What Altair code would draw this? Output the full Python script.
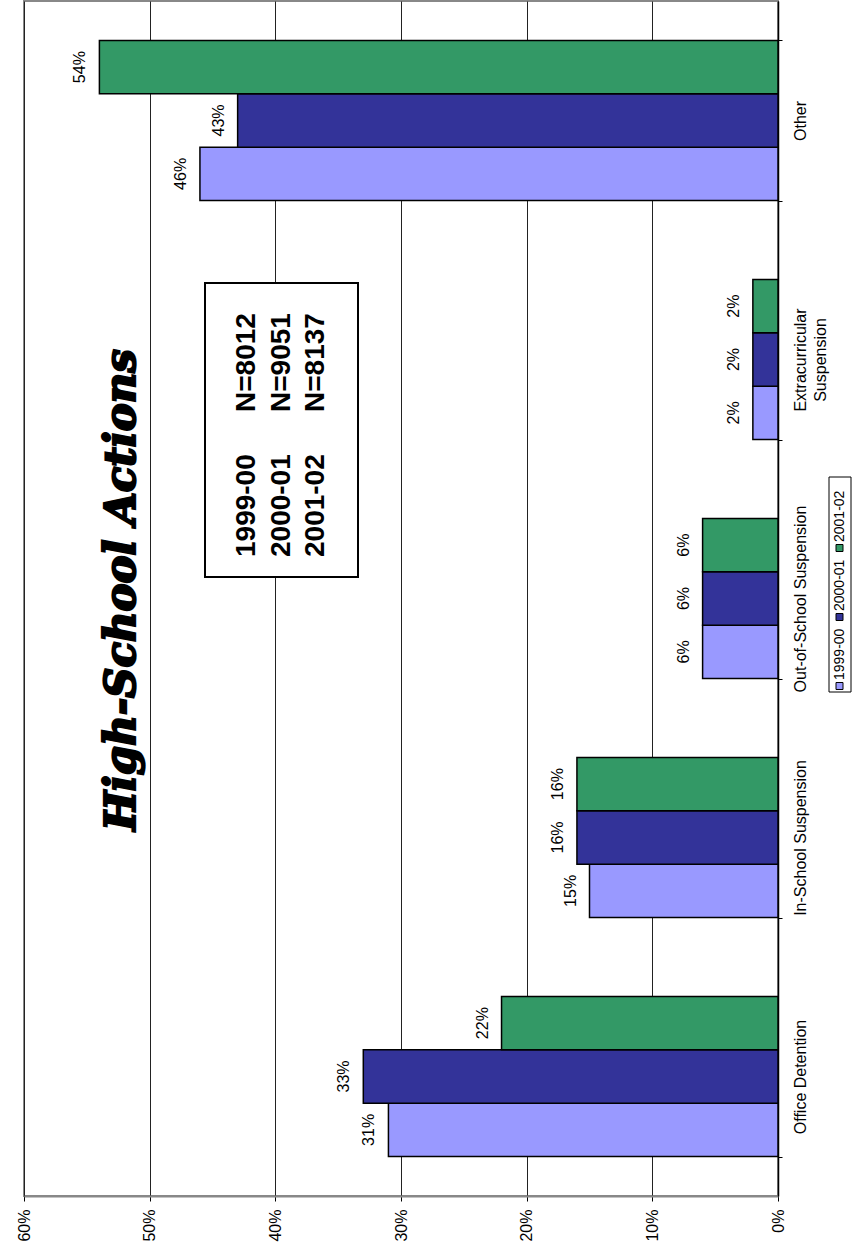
import altair as alt
import pandas as pd

# Disciplinary actions taken at the high-school level, share of all actions
categories = [
    "Office Detention",
    "In-School Suspension",
    "Out-of-School Suspension",
    "Extracurricular Suspension",
    "Other",
]
years = ["1999-00", "2000-01", "2001-02"]
pct_1999_00 = [31, 15, 6, 2, 46]
pct_2000_01 = [33, 16, 6, 2, 43]
pct_2001_02 = [22, 16, 6, 2, 54]
sample_sizes = ["N=8012", "N=9051", "N=8137"]
year_colors = ["#9999FF", "#333399", "#339966"]
value_ticks = [0, 10, 20, 30, 40, 50, 60]

rows = []
for year, vals in zip(years, [pct_1999_00, pct_2000_01, pct_2001_02]):
    for cat, v in zip(categories, vals):
        rows.append({"Action": cat, "Year": year, "Percent": v})
df = pd.DataFrame(rows)

cat_order = categories[::-1]
year_order = years[::-1]

W, H = 754, 1195
FONT = "Liberation Sans"

x_enc = alt.X(
    "Percent:Q",
    scale=alt.Scale(domain=[0, 60], reverse=True, nice=False, zero=True),
    axis=alt.Axis(
        values=value_ticks,
        labelExpr="datum.value + '%'",
        labelAngle=270,
        labelAlign="right",
        labelBaseline="middle",
        labelFontSize=16,
        labelFont=FONT,
        labelColor="#000",
        labelPadding=8,
        grid=True,
        gridColor="#222",
        gridWidth=1,
        domainColor="#888",
        domainWidth=2,
        tickColor="#000",
        tickSize=5,
        title=None,
    ),
)

y_enc = alt.Y(
    "Action:N",
    sort=cat_order,
    scale=alt.Scale(paddingInner=0.33, paddingOuter=0.165),
    axis=alt.Axis(
        orient="right",
        labelAngle=270,
        labelAlign="center",
        labelBaseline="top",
        labelFontSize=16,
        labelFont=FONT,
        labelColor="#000",
        labelPadding=10,
        labelLineHeight=20,
        labelLimit=400,
        labelExpr="datum.label == 'Extracurricular Suspension' ? ['Extracurricular', 'Suspension'] : datum.label",
        tickBand="extent",
        tickColor="#000",
        tickSize=4,
        domainColor="#000",
        domainWidth=1.5,
        grid=False,
        title=None,
    ),
)

yoff = alt.YOffset("Year:N", sort=year_order, scale=alt.Scale(paddingInner=0, paddingOuter=0))
color = alt.Color("Year:N", scale=alt.Scale(domain=years, range=year_colors), legend=None)

base = alt.Chart(df).encode(y=y_enc, yOffset=yoff)

bars = base.mark_bar(stroke="#000", strokeWidth=1.5).encode(x=x_enc, color=color)

labels = base.transform_calculate(lbl="datum.Percent + '%'").mark_text(
    angle=270, align="center", baseline="middle", dy=-19, fontSize=16, font=FONT, color="#000"
).encode(x=alt.X("Percent:Q"), text="lbl:N")

one = pd.DataFrame({"k": [0]})

title = alt.Chart(one).mark_text(
    angle=270, align="center", baseline="middle",
    font="DejaVu Serif", fontStyle="italic", fontWeight="bold", fontSize=42,
    color="#000", stroke="#000", strokeWidth=2.2,
).encode(x=alt.value(98), y=alt.value(589), text=alt.value("High-School Actions"))

box = alt.Chart(one).mark_rect(fill="#fff", stroke="#000", strokeWidth=2).encode(
    x=alt.value(181), x2=alt.value(334), y=alt.value(282), y2=alt.value(576)
)

layers = [bars, labels, title, box]

col_x = [223, 258, 292]
for cx, yr, n in zip(col_x, years, sample_sizes):
    for ypos, txt in [(556, yr), (411, n)]:
        layers.append(
            alt.Chart(one).mark_text(
                angle=270, align="left", baseline="middle",
                font=FONT, fontWeight="bold", fontSize=28, color="#000",
            ).encode(x=alt.value(cx), y=alt.value(ypos), text=alt.value(txt))
        )

# hand-drawn legend, rotated like the rest of the chart
layers.append(
    alt.Chart(one).mark_rect(fill="#fff", stroke="#000", strokeWidth=1).encode(
        x=alt.value(805), x2=alt.value(827), y=alt.value(476), y2=alt.value(691)
    )
)
leg_y = [685, 616, 547]
for ly, yr, col in zip(leg_y, years, year_colors):
    layers.append(
        alt.Chart(one).mark_rect(fill=col, stroke="#000", strokeWidth=1).encode(
            x=alt.value(812), x2=alt.value(819), y=alt.value(ly - 3.5), y2=alt.value(ly + 3.5)
        )
    )
    layers.append(
        alt.Chart(one).mark_text(
            angle=270, align="left", baseline="middle", font=FONT, fontSize=14, color="#000"
        ).encode(x=alt.value(816), y=alt.value(ly - 6), text=alt.value(yr))
    )

chart = alt.layer(*layers).properties(
    width=W,
    height=H,
    padding={"left": 24, "top": 1, "right": 86, "bottom": 52},
    autosize="none",
    background="#fff",
).configure_view(stroke="#888", strokeWidth=2)

chart.save("out.html", embed_options={"renderer": "svg", "actions": False})
